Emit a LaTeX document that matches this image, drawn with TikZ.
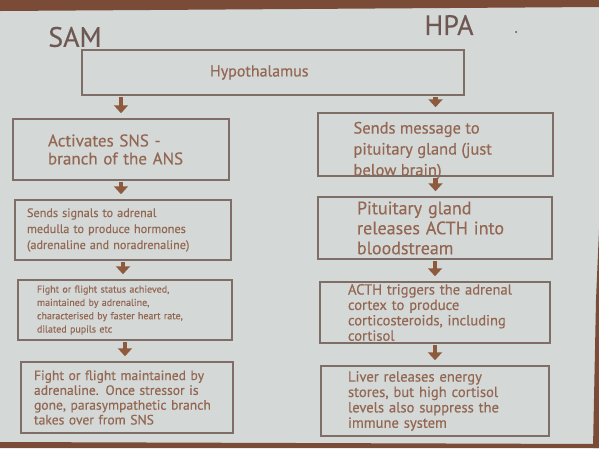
\documentclass[tikz,border=0pt]{standalone}
\usepackage{fontspec}
\setmainfont{PT Sans}[FakeBold=0.4]
\usetikzlibrary{arrows.meta,positioning}

\definecolor{slide}{HTML}{D4D9D7}
\definecolor{band}{HTML}{7A4B37}
\definecolor{headcol}{HTML}{6F5853}
\definecolor{boxline}{HTML}{7F6E68}
\definecolor{boxtext}{HTML}{946753}
\definecolor{arrowcol}{HTML}{8E5A3D}

\tikzset{
  stage/.style={draw=boxline, line width=1.5pt, text=boxtext, align=left, inner sep=0pt},
  flow/.style={draw=arrowcol, line width=4.5pt, -{Triangle[width=14pt,length=8pt]}, shorten <=1pt, shorten >=5pt},
  heading/.style={text=headcol, font=\fontsize{28}{32}\selectfont},
}

\begin{document}
\begin{tikzpicture}[x=1pt,y=-1pt]
      % slide and its frame
      \fill[slide] (0,0) rectangle (599,448);
      \useasboundingbox (0,0) rectangle (599,448);
      \fill[band] (0,0) -- (599,0) -- (599,7) -- (0,11) -- cycle;
      \fill[band] (0,442) -- (599,444) -- (599,448) -- (0,448) -- cycle;
      \fill[band] (599,230) -- (599,448) -- (593,448) -- (596,300) -- cycle;
      \fill[black!70] (516,32) circle (1pt);
      \node[heading] at (75,37) (sam) {SAM};
      \node[heading] at (449,25) (hpa) {HPA};
      \node[stage, minimum width=382pt, minimum height=45pt, text width=126pt, font=\fontsize{16}{19}\selectfont] at (273,72.5) (hyp) {Hypothalamus};
      \node[stage, minimum width=216pt, minimum height=61pt, text width=146pt, font=\fontsize{17}{18}\selectfont] at (121,149.5) (act) {Activates SNS -\\branch of the ANS};
      \node[stage, minimum width=235pt, minimum height=63pt, font=\fontsize{16.5}{21}\selectfont] at (435.5,144.5) (msg) {\raisebox{-6pt}[\height][\depth]{\parbox{164pt}{Sends message to\\pituitary gland (just\\below brain)}}};
      \node[stage, minimum width=216pt, minimum height=60pt, text width=192pt, font=\fontsize{12.2}{16}\selectfont] at (123,230) (sig) {Sends signals to adrenal\\medulla to produce hormones\\(adrenaline and noradrenaline)};
      \node[stage, minimum width=234pt, minimum height=62pt, text width=156pt, font=\fontsize{18}{20}\selectfont] at (435,228) (pit) {Pituitary gland\\releases ACTH into\\bloodstream};
      \node[stage, minimum width=214pt, minimum height=60pt, text width=176pt, font=\fontsize{10}{13.3}\selectfont] at (125,310) (fgt) {Fight or flight status achieved,\\maintained by adrenaline,\\characterised by faster heart rate,\\dilated pupils etc};
      \node[stage, minimum width=230pt, minimum height=61pt, text width=174pt, font=\fontsize{14.6}{15.4}\selectfont] at (435,312.5) (acth) {ACTH triggers the adrenal\\cortex to produce\\corticosteroids, including\\cortisol};
      \node[stage, minimum width=212pt, minimum height=71pt, text width=186pt, font=\fontsize{13.6}{14.8}\selectfont] at (127,397.5) (mnt) {Fight or flight maintained by\\adrenaline. Once stressor is\\gone, parasympathetic branch\\takes over from SNS};
      \node[stage, minimum width=228pt, minimum height=70pt, text width=174pt, font=\fontsize{14.6}{15.4}\selectfont] at (435,401) (liv) {Liver releases energy\\stores, but high cortisol\\levels also suppress the\\immune system};
      \draw[flow] (act.north |- hyp.south) -- (act.north);
      \draw[flow] (msg.north |- hyp.south) -- (msg.north);
      \draw[flow] (act.south) -- (act.south |- sig.north);
      \draw[flow] (msg.south) -- (msg.south |- pit.north);
      \draw[flow] (sig.south) -- (sig.south |- fgt.north);
      \draw[flow] (pit.south) -- (pit.south |- acth.north);
      \draw[flow] (fgt.south) -- (fgt.south |- mnt.north);
      \draw[flow] (acth.south) -- (acth.south |- liv.north);
\end{tikzpicture}
\end{document}
